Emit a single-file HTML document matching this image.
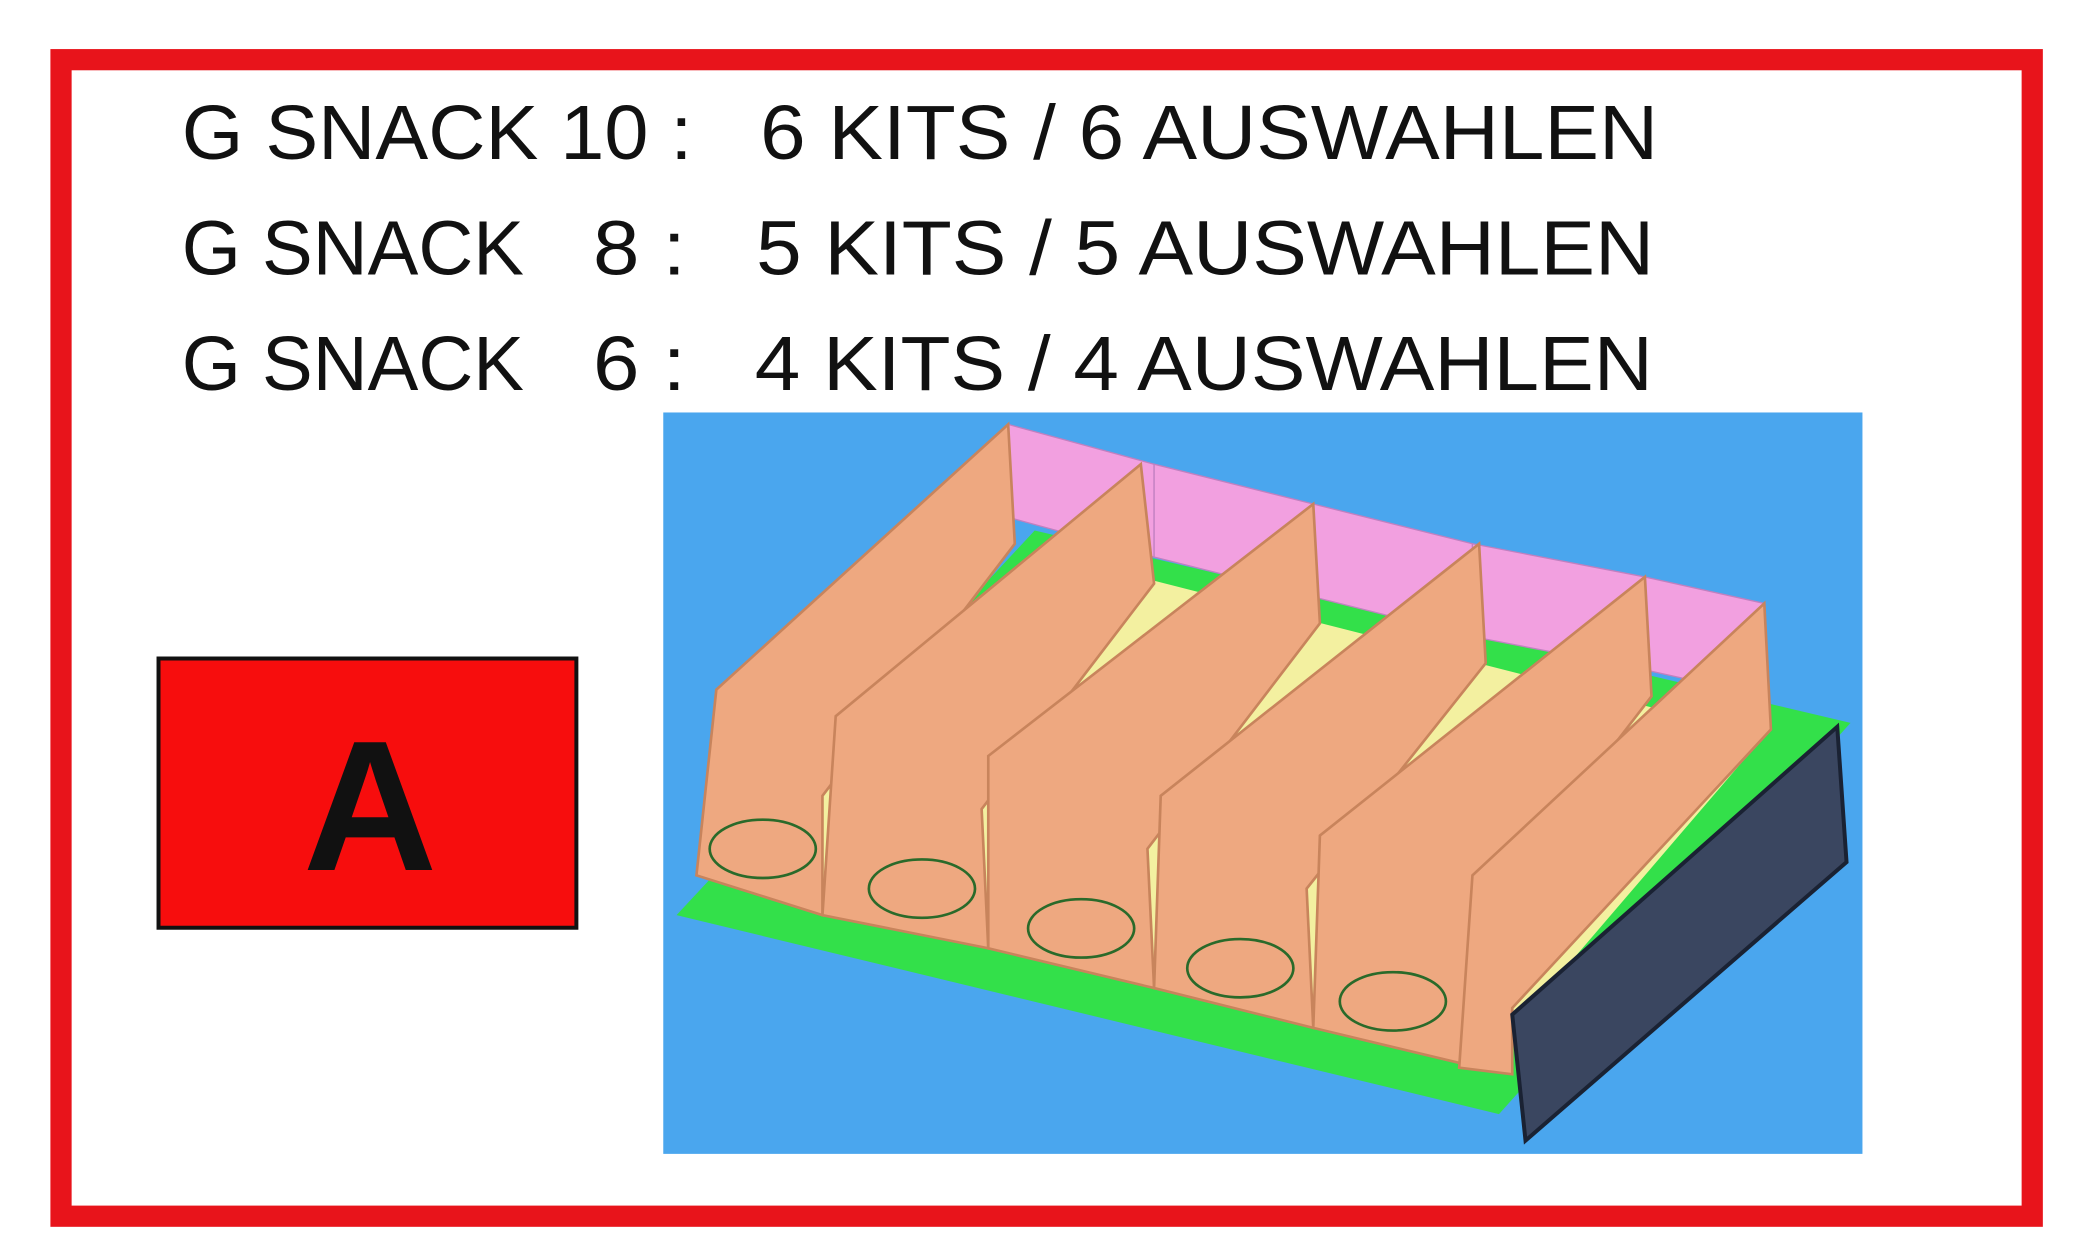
<!DOCTYPE html>
<html><head><meta charset="utf-8"><style>
html,body{margin:0;padding:0;background:#fff;}
svg{display:block;}
</style></head><body>
<svg width="2080" height="1256" viewBox="0 0 1568 947" preserveAspectRatio="none" xmlns="http://www.w3.org/2000/svg">
<rect x="0" y="0" width="1568" height="947" fill="#fff"/>
<rect x="46" y="45" width="1486" height="872" fill="none" stroke="#e8141b" stroke-width="16"/>
<g font-family="Liberation Sans, sans-serif" font-size="58" fill="#111">
<text x="137" y="120" textLength="385" lengthAdjust="spacingAndGlyphs">G SNACK 10 :</text>
<text x="573" y="120" textLength="677" lengthAdjust="spacingAndGlyphs">6 KITS / 6 AUSWAHLEN</text>
<text x="137" y="207" textLength="258" lengthAdjust="spacingAndGlyphs">G SNACK</text>
<text x="447" y="207" textLength="70" lengthAdjust="spacingAndGlyphs">8 :</text>
<text x="570" y="207" textLength="677" lengthAdjust="spacingAndGlyphs">5 KITS / 5 AUSWAHLEN</text>
<text x="137" y="294" textLength="258" lengthAdjust="spacingAndGlyphs">G SNACK</text>
<text x="447" y="294" textLength="70" lengthAdjust="spacingAndGlyphs">6 :</text>
<text x="569" y="294" textLength="677" lengthAdjust="spacingAndGlyphs">4 KITS / 4 AUSWAHLEN</text>
</g>
<rect x="119.5" y="496.5" width="315" height="203" fill="#f70d0d" stroke="#111" stroke-width="3"/>
<text x="279" y="656" text-anchor="middle" font-family="Liberation Sans, sans-serif" font-weight="bold" font-size="140" fill="#111">A</text>
<rect x="500" y="311" width="904" height="559" fill="#4aa6ee"/>
<polygon points="510,690 1130,840 1395,545 780,400" fill="#33e04a"/>
<polygon points="530,660 1120,800 1330,555 800,420" fill="#f3f0a0"/>
<g fill="#f2a0e0" stroke="#c080c0" stroke-width="1">
<polygon points="760,320 870,350 870,420 760,390"/>
<polygon points="870,350 990,380 990,450 870,420"/>
<polygon points="990,380 1110,410 1110,480 990,450"/>
<polygon points="1110,410 1240,435 1240,505 1110,480"/>
<polygon points="1240,435 1330,455 1330,525 1240,505"/>
</g>
<g fill="#eea880" stroke="#c8845c" stroke-width="2">
<polygon points="525,660 540,520 760,320 765,410 620,600 620,690"/>
<polygon points="620,690 630,540 860,350 870,440 740,610 745,715"/>
<polygon points="745,715 745,570 990,380 995,470 865,640 870,745"/>
<polygon points="870,745 875,600 1115,410 1120,500 985,670 990,775"/>
<polygon points="990,775 995,630 1240,435 1245,525 1110,700 1115,805"/>
<polygon points="1100,805 1110,660 1330,455 1335,550 1140,760 1140,810"/>
</g>
<g fill="none" stroke="#2a6a2a" stroke-width="2">
<ellipse cx="575" cy="640" rx="40" ry="22"/>
<ellipse cx="695" cy="670" rx="40" ry="22"/>
<ellipse cx="815" cy="700" rx="40" ry="22"/>
<ellipse cx="935" cy="730" rx="40" ry="22"/>
<ellipse cx="1050" cy="755" rx="40" ry="22"/>
</g>
<polygon points="1140,765 1385,548 1392,650 1150,860" fill="#3a4660" stroke="#1a2233" stroke-width="3"/>
</svg>
</body></html>
